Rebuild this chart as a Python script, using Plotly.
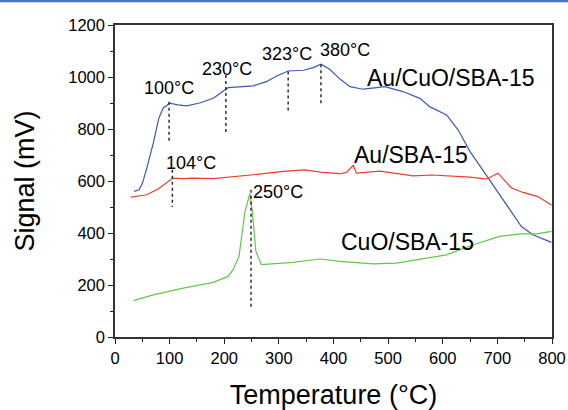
import plotly.graph_objects as go

# ---- data ----
blue_t = [35, 44, 50, 57, 70, 80, 88, 100, 115, 131, 155, 180, 207, 230, 253, 277, 296, 317, 345, 363, 377,
          393, 412, 430, 454, 475, 494, 527, 558, 576, 607, 628, 650, 674, 710, 744, 765, 799]
blue_s = [560, 566, 590, 640, 745, 840, 880, 899, 893, 889, 900, 918, 959, 962, 966, 982, 1004, 1023, 1026, 1036, 1049,
          1030, 992, 963, 953, 958, 963, 944, 918, 886, 854, 797, 713, 640, 528, 425, 393, 364]

red_t = [29, 58, 79, 95, 106, 125, 143, 180, 216, 253, 280, 308, 348, 375, 412, 424, 436, 442, 485, 515, 546,
         580, 607, 650, 680, 701, 726, 747, 774, 799]
red_s = [538, 547, 569, 595, 611, 609, 611, 609, 615, 624, 630, 637, 643, 634, 628, 633, 660, 630, 638, 630, 620,
         623, 620, 615, 607, 630, 573, 556, 540, 508]

green_t = [34, 70, 125, 180, 207, 216, 227, 238, 247, 251, 258, 268, 326, 375, 412, 473, 515, 564, 607, 656,
           704, 741, 772, 799]
green_s = [140, 162, 188, 210, 233, 259, 310, 483, 552, 489, 329, 278, 287, 300, 291, 281, 284, 300, 316, 355,
           387, 397, 397, 406]

peak_labels = ["100\u00b0C", "230\u00b0C", "323\u00b0C", "380\u00b0C", "104\u00b0C", "250\u00b0C"]
peak_x = [99, 203, 317, 377, 105, 249]
peak_top = [905, 1008, 1021, 1049, 643, 566]
peak_bottom = [746, 777, 867, 899, 500, 111]
label_x = [99, 205, 315, 421, 140, 298]
label_y = [957, 1031, 1088, 1104, 669, 556]

series_names = ["Au/CuO/SBA-15", "Au/SBA-15", "CuO/SBA-15"]
series_label_x = [614, 541, 535]
series_label_y = [995, 700, 367]

FONT = "Liberation Sans, Arial, sans-serif"
colors = ["#3D58B8", "#F23A2E", "#62C74A"]

fig = go.Figure()
for t, s, c, n in [(blue_t, blue_s, colors[0], series_names[0]),
                   (red_t, red_s, colors[1], series_names[1]),
                   (green_t, green_s, colors[2], series_names[2])]:
    fig.add_trace(go.Scatter(x=t, y=s, mode="lines", name=n,
                             line=dict(color=c, width=1.2), showlegend=False))

for px, top, bot in zip(peak_x, peak_top, peak_bottom):
    fig.add_trace(go.Scatter(x=[px, px], y=[top, bot], mode="lines",
                             line=dict(color="#222", width=1.4, dash="dot"), showlegend=False))

for txt, lx, ly in zip(peak_labels, label_x, label_y):
    fig.add_annotation(x=lx, y=ly, text=txt, showarrow=False,
                       font=dict(family=FONT, size=18, color="black"))
for txt, lx, ly in zip(series_names, series_label_x, series_label_y):
    fig.add_annotation(x=lx, y=ly, text=txt, showarrow=False,
                       font=dict(family=FONT, size=23, color="black"))

# thin blue strip at the very top of the image
fig.add_shape(type="rect", xref="paper", yref="paper", x0=-0.3, x1=1.1, y0=1.0727, y1=1.085,
              line=dict(width=0), fillcolor="#4A72C0", layer="above")

fig.update_layout(
    width=568, height=410,
    margin=dict(l=115, r=16, t=25, b=73, autoexpand=False),
    paper_bgcolor="white", plot_bgcolor="white",
    font=dict(family=FONT, color="black"),
    xaxis=dict(range=[0, 800], dtick=100, tick0=0, ticks="outside", ticklen=5, tickwidth=1.3,
               tickcolor="#222", showline=True, linecolor="#333", linewidth=1.5, mirror=True,
               showgrid=False, zeroline=False, tickfont=dict(size=16.5), automargin=False,
               minor=dict(dtick=50, ticks="outside", ticklen=3, tickcolor="#222", tickwidth=1.3),
               title=dict(text="Temperature (\u00b0C)", font=dict(size=27), standoff=20)),
    yaxis=dict(range=[0, 1200], dtick=200, tick0=0, ticks="outside", ticklen=5, tickwidth=1.3,
               tickcolor="#222", showline=True, linecolor="#333", linewidth=1.5, mirror=True,
               showgrid=False, zeroline=False, tickfont=dict(size=16.5), automargin=False,
               minor=dict(dtick=100, ticks="outside", ticklen=3, tickcolor="#222", tickwidth=1.3),
               title=dict(text="Signal (mV)", font=dict(size=27), standoff=26)),
)

fig.write_html("out.html", config={"displayModeBar": False},
               post_script="document.body.style.margin='0';document.body.style.overflow='hidden';")
